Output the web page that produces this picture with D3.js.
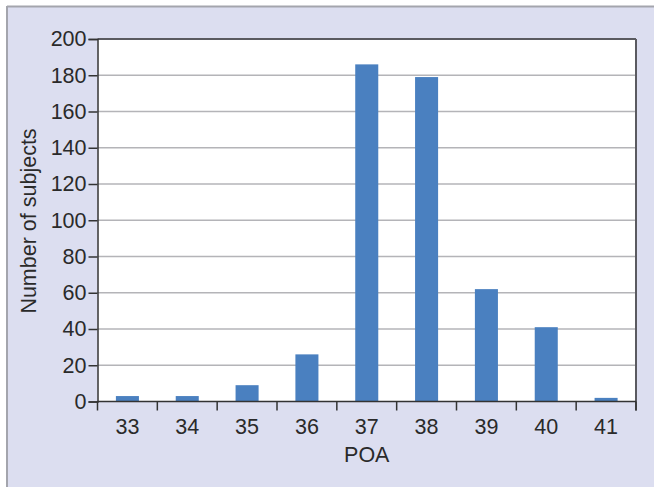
<!DOCTYPE html>
<html>
<head>
<meta charset="utf-8">
<script src="https://cdn.jsdelivr.net/npm/d3@7"></script>
<style>
  html, body { margin: 0; padding: 0; background: #ffffff; }
  svg { display: block; }
</style>
</head>
<body>
<svg id="chart" width="654" height="487"></svg>
<script>
const categories = ["33", "34", "35", "36", "37", "38", "39", "40", "41"];
const values = [3, 3, 9, 26, 186, 179, 62, 41, 2];
const yTicks = [0, 20, 40, 60, 80, 100, 120, 140, 160, 180, 200];
const xTitle = "POA";
const yTitle = "Number of subjects";

const svg = d3.select("#chart");
const W = 654, H = 487;
const m = { left: 97.5, top: 39, right: 636, bottom: 401.5 };
const FONT = "Liberation Sans, Arial, sans-serif";
const FS = "21.5px";

// Background panel and frame
svg.append("rect").attr("x", 0).attr("y", 0).attr("width", W).attr("height", H).attr("fill", "#ffffff");
svg.append("rect").attr("x", 7).attr("y", 6).attr("width", W - 7).attr("height", H - 6).attr("fill", "#dcdef0");
svg.append("line").attr("x1", 7).attr("x2", W).attr("y1", 6.5).attr("y2", 6.5).attr("stroke", "#a4a5ad").attr("stroke-width", 2);
svg.append("line").attr("x1", 7).attr("x2", 7).attr("y1", 6).attr("y2", H).attr("stroke", "#a4a5ad").attr("stroke-width", 2);

// Plot area
svg.append("rect").attr("x", m.left).attr("y", m.top).attr("width", m.right - m.left).attr("height", m.bottom - m.top).attr("fill", "#ffffff");

const x = d3.scaleBand().domain(categories).range([m.left, m.right]).paddingInner(0.615).paddingOuter(0.3075);
const y = d3.scaleLinear().domain([0, 200]).range([m.bottom, m.top]);

// Gridlines
svg.append("g").selectAll("line").data(yTicks.filter(t => t > 0 && t < 200)).join("line")
  .attr("x1", m.left).attr("x2", m.right)
  .attr("y1", d => y(d)).attr("y2", d => y(d))
  .attr("stroke", "#b4b4b8").attr("stroke-width", 1.5);

// Bars
svg.append("g").selectAll("rect").data(categories).join("rect")
  .attr("x", d => x(d))
  .attr("width", x.bandwidth())
  .attr("y", (d, i) => y(values[i]))
  .attr("height", (d, i) => y(0) - y(values[i]))
  .attr("fill", "#4a80c0");

// Top and right border
svg.append("line").attr("x1", m.left).attr("x2", m.right).attr("y1", m.top).attr("y2", m.top).attr("stroke", "#5a5a60").attr("stroke-width", 2);
svg.append("line").attr("x1", m.right).attr("x2", m.right).attr("y1", m.top).attr("y2", m.bottom + 9).attr("stroke", "#5a5a60").attr("stroke-width", 2);

// Y axis
const yAxis = svg.append("g").attr("transform", `translate(${m.left},0)`)
  .call(d3.axisLeft(y).tickValues(yTicks).tickSize(9).tickPadding(2));
yAxis.select(".domain").attr("stroke", "#333").attr("stroke-width", 1.5);
yAxis.selectAll(".tick line").attr("stroke", "#333").attr("stroke-width", 1.5);
yAxis.selectAll(".tick text").attr("fill", "#2a2a2a").style("font-family", FONT).style("font-size", FS);

// X axis with ticks at band boundaries
const boundaries = categories.map(c => x(c) - x.step() * x.paddingInner() / 2);
boundaries.push(m.right);
const xg = svg.append("g");
xg.append("line").attr("x1", m.left).attr("x2", m.right).attr("y1", m.bottom).attr("y2", m.bottom).attr("stroke", "#333").attr("stroke-width", 1.5);
xg.selectAll("line.t").data(boundaries).join("line").attr("class", "t")
  .attr("x1", d => d).attr("x2", d => d).attr("y1", m.bottom).attr("y2", m.bottom + 9)
  .attr("stroke", "#333").attr("stroke-width", 1.5);
xg.selectAll("text").data(categories).join("text")
  .attr("x", d => x(d) + x.bandwidth() / 2)
  .attr("y", 433.5)
  .attr("text-anchor", "middle")
  .attr("fill", "#2a2a2a")
  .style("font-family", FONT).style("font-size", FS)
  .text(d => d);

// Axis titles
svg.append("text").attr("x", (m.left + m.right) / 2).attr("y", 461.5).attr("text-anchor", "middle")
  .attr("fill", "#2a2a2a").style("font-family", FONT).style("font-size", FS)
  .text(xTitle);
svg.append("text").attr("transform", `translate(36,221) rotate(-90)`).attr("text-anchor", "middle")
  .attr("fill", "#2a2a2a").style("font-family", FONT).style("font-size", FS)
  .text(yTitle);
</script>
</body>
</html>
